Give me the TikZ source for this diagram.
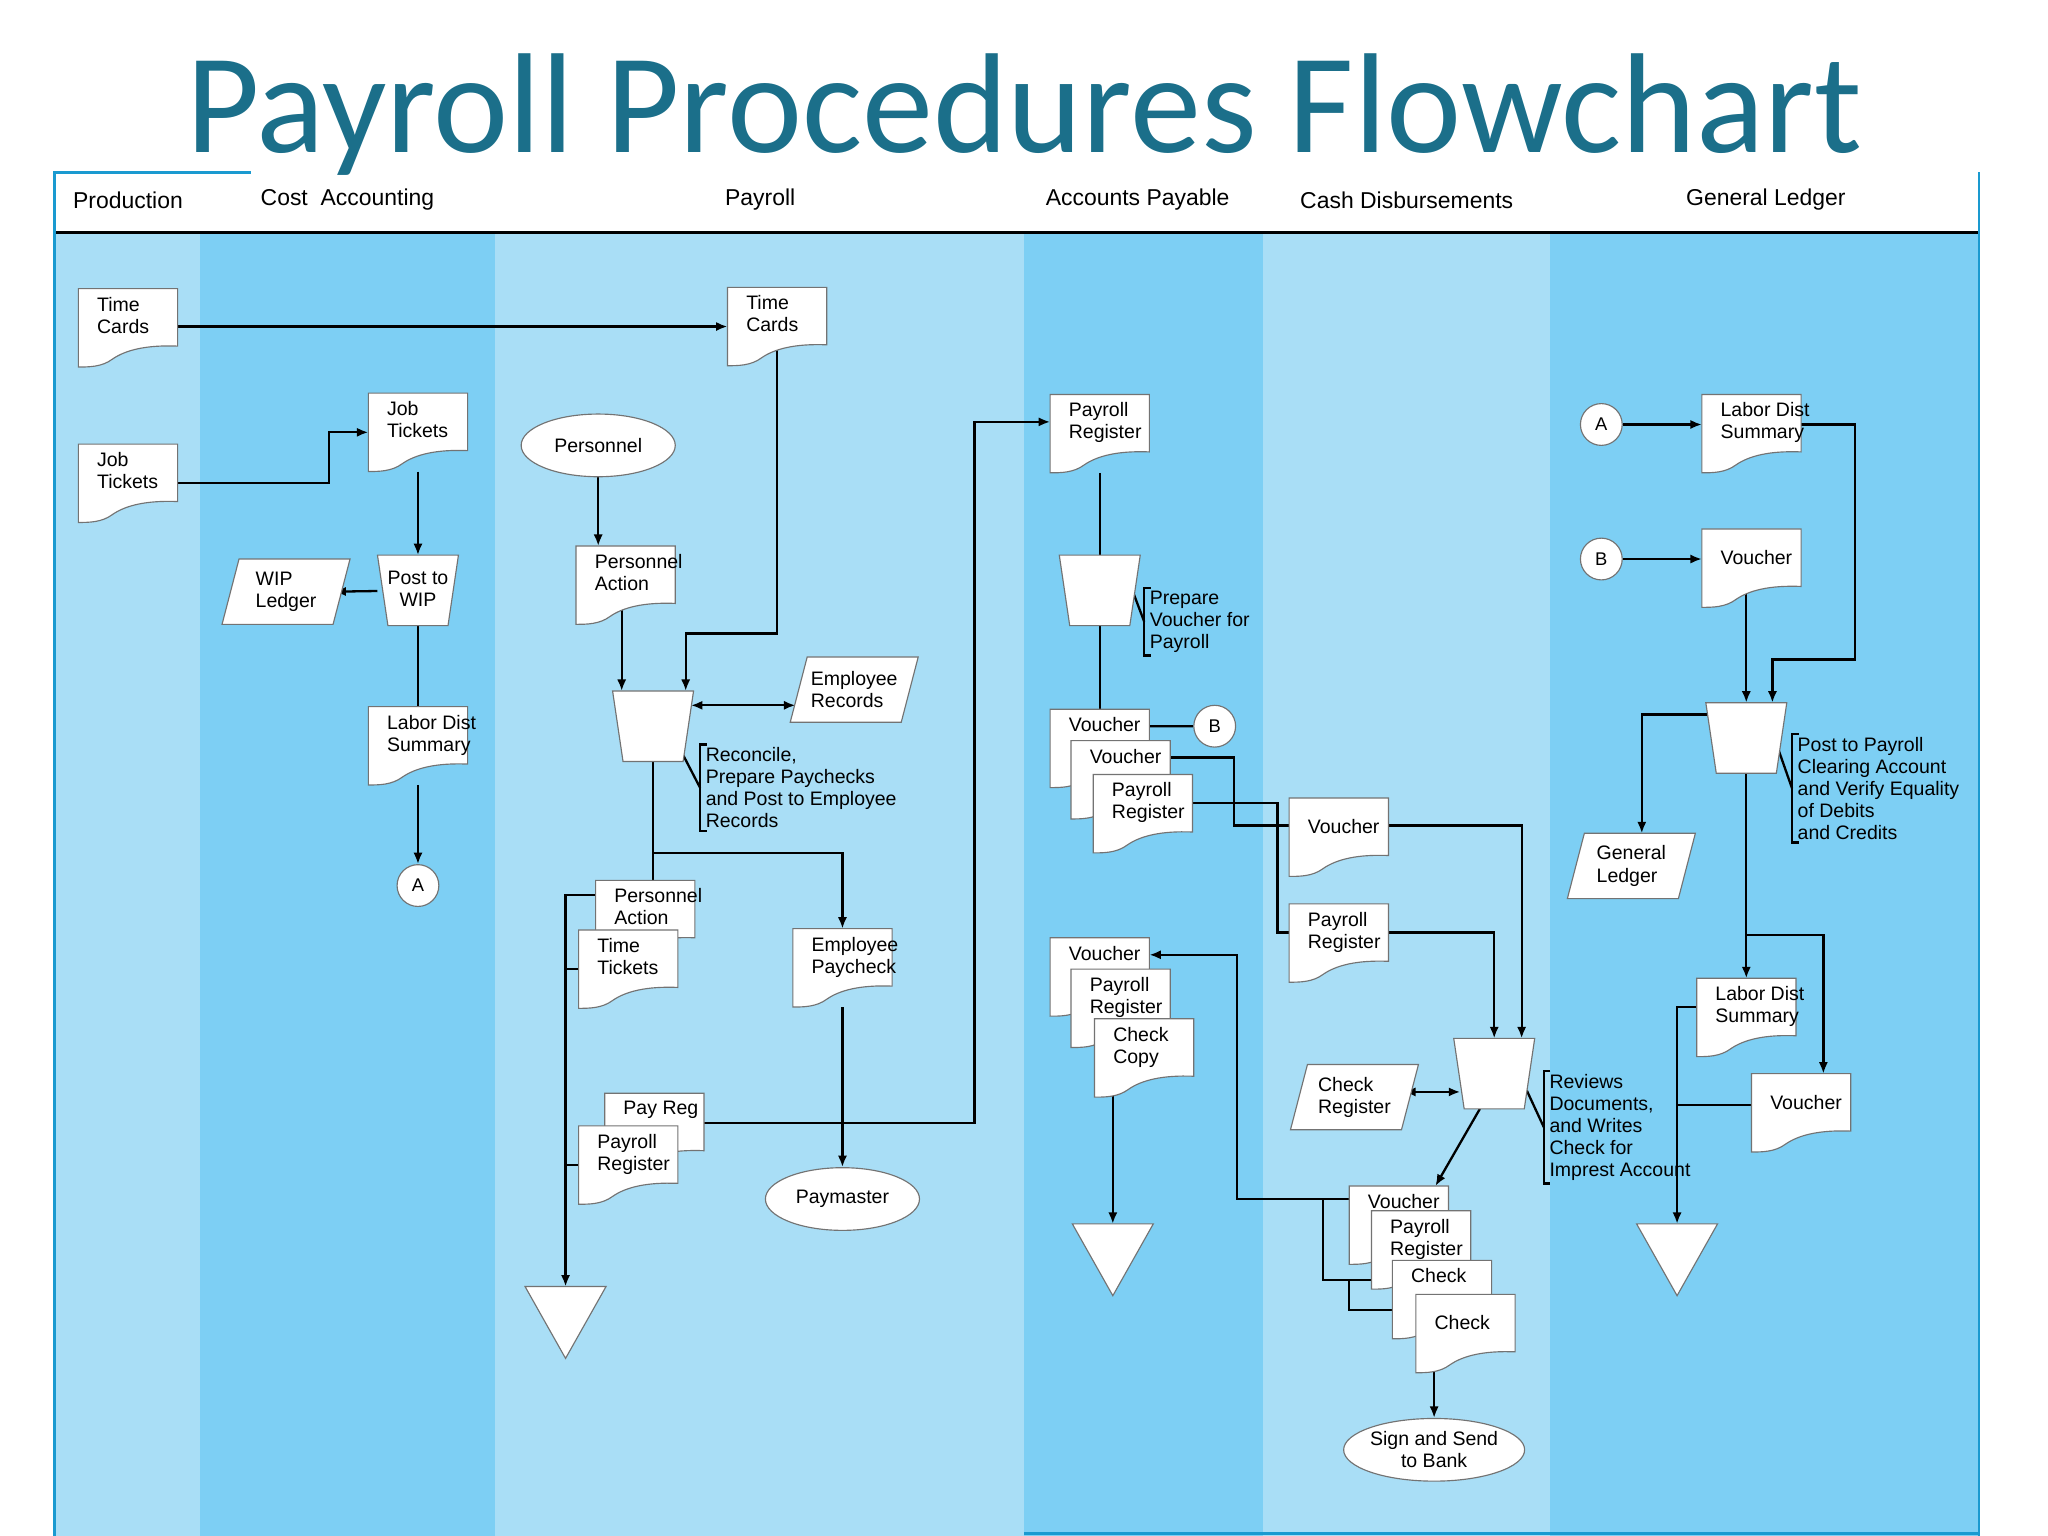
\documentclass[tikz,border=0pt]{standalone}
\usepackage{fontspec}
\setmainfont{Liberation Sans}
\newfontfamily\titlefont{Carlito}
\usetikzlibrary{calc,arrows.meta,shapes.geometric}
\pgfdeclarelayer{lanes}\pgfdeclarelayer{edges}
\pgfsetlayers{lanes,edges,main}
\definecolor{laneL}{HTML}{A9DEF6}
\definecolor{laneM}{HTML}{7DCFF4}
\definecolor{titleC}{HTML}{1B6F8A}
\definecolor{edgeC}{HTML}{1A9AD0}
\tikzset{
 shp/.style={fill=white,draw=black!55,line width=0.5pt},
 box/.style={rectangle,inner sep=0,outer sep=0,draw=none},
 txt/.style={inner sep=0,align=left,font=\fontsize{8.5}{9.6}\selectfont},
 ar/.style={line width=1pt,-{Latex[length=5pt,width=4pt]}},
 ln/.style={line width=1pt},
 dar/.style={line width=1pt,{Latex[length=5pt,width=4pt]}-{Latex[length=5pt,width=4pt]}},
 term/.style={ellipse,shp,minimum width=2.36cm,minimum height=0.96cm,inner sep=0,font=\fontsize{8.5}{9.6}\selectfont,align=center},
 conn/.style={circle,shp,minimum size=0.64cm,inner sep=0,font=\fontsize{8}{9}\selectfont},
 hdr/.style={font=\fontsize{10}{11}\selectfont}
}
% document: name,x,y,text ; optional top inset
\newcommand\Doc[5][6]{%
 \filldraw[shp] ({#3-38},{#4-30}) -- ({#3+38},{#4-30}) -- ({#3+38},{#4+14})
  .. controls ({#3+14},{#4+13}) and ({#3-2},{#4+17}) .. ({#3-12},{#4+24})
  .. controls ({#3-20},{#4+30}) and ({#3-30},{#4+30}) .. ({#3-38},{#4+30}) -- cycle;
 \node[box,minimum width=1.52cm,minimum height=1.2cm] (#2) at (#3,#4) {};
 \node[txt,anchor=north west] at ({#3-24},{#4-30+#1}) {#5};}
% trapezoid: name,x,y
\newcommand\Trap[3]{%
 \filldraw[shp] ({#2-31},{#3-27}) -- ({#2+31},{#3-27}) -- ({#2+23},{#3+27}) -- ({#2-23},{#3+27}) -- cycle;
 \node[box,minimum width=1.24cm,minimum height=1.08cm] (#1) at (#2,#3) {};}
% parallelogram: name,x,y,text
\newcommand\Para[4]{%
 \filldraw[shp] ({#2-49},{#3+25}) -- ({#2-36},{#3-25}) -- ({#2+49},{#3-25}) -- ({#2+36},{#3+25}) -- cycle;
 \node[box,minimum width=1.72cm,minimum height=1cm] (#1) at (#2,#3) {};
 \node[txt] at (#2,#3) {#4};}
% offline file triangle: name,x(top centre),y(top)
\newcommand\Tri[3]{%
 \filldraw[shp] ({#2-31},#3) -- ({#2+31},#3) -- (#2,{#3+55}) -- cycle;
 \coordinate (#1) at (#2,#3);}
\newcommand\Brk[1]{\draw[ln] ($(#1.north west)+(1,-2)$) -| ($(#1.south west)+(-4,2)$) -- ++(5,0);}
\begin{document}
\begin{tikzpicture}[x=0.02cm,y=-0.02cm]
\useasboundingbox (0,0) rectangle (1568,1176);
\begin{pgfonlayer}{lanes}
 \fill[white] (0,0) rectangle (1568,1176);
 \fill[laneL] (42,178) rectangle (153,1176);
 \fill[laneM] (153,178) rectangle (379,1176);
 \fill[laneL] (379,178) rectangle (784,1176);
 \fill[laneM] (784,178) rectangle (967,1176);
 \fill[laneL] (967,178) rectangle (1187,1176);
 \fill[laneM] (1187,178) rectangle (1515,1176);
 \draw[line width=1.3pt] (42,178) -- (1515,178);
 \draw[edgeC,line width=1.2pt] (42,1176) -- (42,132) -- (192,132);
 \draw[edgeC,line width=0.8pt] (1515,132) -- (1515,1176);
 \draw[edgeC,line width=1.5pt] (784,1174) -- (1515,1174);
\end{pgfonlayer}
\node[font=\titlefont\fontsize{62}{64}\selectfont,text=titleC] (title) at (784,88) {Payroll Procedures Flowchart};
\node[hdr] (h1) at (98,153) {Production};
\node[hdr] (h2) at (266,153) {Cost\ \ Accounting};
\node[hdr] (h3) at (582,153) {Payroll};
\node[hdr] (h4) at (871,153) {Accounts Payable};
\node[hdr] (h5) at (1077,153) {Cash Disbursements};
\node[hdr] (h6) at (1352,153) {General Ledger};
% Production / Cost accounting
\Doc{tc1}{98}{251}{Time\\Cards}
\Doc{jt1}{98}{370}{Job\\Tickets}
\Doc{jt2}{320}{331}{Job\\Tickets}
\Trap{wip}{320}{452}
\node[txt,align=center] at (320,451) {Post to\\WIP};
\Para{wipl}{219}{453}{WIP\\Ledger}
\Doc{lds1}{320}{571}{Labor Dist\\Summary}
\node[conn] (A1) at (320,678) {A};
% Payroll
\Doc{tc2}{595}{250}{Time\\Cards}
\node[term] (pers) at (458,341) {Personnel};
\Doc{pa1}{479}{448}{Personnel\\Action}
\Trap{rec}{500}{556}
\Para{emp}{654}{528}{Employee\\Records}
\node[txt,anchor=north west] (rectxt) at (540,572) {Reconcile,\\Prepare Paychecks\\and Post to Employee\\Records};
\Doc{pa2}{494}{704}{Personnel\\Action}
\Doc{tt}{481}{742}{Time\\Tickets}
\Doc{ep}{645}{741}{Employee\\Paycheck}
\node[term] (paym) at (645,918) {Paymaster};
\Doc{payreg}{501}{867}{Pay Reg}
\Doc{pr1}{481}{892}{Payroll\\Register}
\Tri{tri1}{433}{985}
% Accounts payable
\Doc{pr2}{842}{332}{Payroll\\Register}
\Trap{pv}{842}{452}
\node[txt,anchor=north west] (pvtxt) at (880,452) {Prepare\\Voucher for\\Payroll};
\Doc{v1}{842}{573}{Voucher}
\Doc{v2}{858}{597}{Voucher}
\Doc{pr3}{875}{623}{Payroll\\Register}
\node[conn] (B1) at (930,556) {B};
\Doc{v4}{842}{748}{Voucher}
\Doc{pr5}{858}{772}{Payroll\\Register}
\Doc{cc}{876}{810}{Check\\Copy}
\Tri{tri2}{852}{937}
% Cash disbursements
\Doc[16]{cdv}{1025}{641}{Voucher}
\Doc{cdpr}{1025}{722}{Payroll\\Register}
\Trap{rev}{1144}{822}
\node[txt,anchor=north west] (revtxt) at (1186,822) {Reviews\\Documents,\\and Writes\\Check for\\Imprest Account};
\Para{chkreg}{1037}{840}{Check\\Register}
\Doc{v3}{1071}{938}{Voucher}
\Doc{pr4}{1088}{957}{Payroll\\Register}
\Doc{ck1}{1104}{995}{Check}
\Doc[16]{ck2}{1122}{1021}{Check}
\node[term] (sign) at (1098,1110) {Sign and Send\\to Bank};
% General ledger
\node[conn] (A2) at (1226,325) {A};
\node[conn] (B2) at (1226,428) {B};
\Doc{lds2}{1341}{332}{Labor Dist\\Summary}
\Doc[16]{v5}{1341}{435}{Voucher}
\Trap{post}{1337}{565}
\node[txt,anchor=north west] (posttxt) at (1376,564) {Post to Payroll\\Clearing Account\\and Verify Equality\\of Debits\\and Credits};
\Para{gl}{1249}{663}{General\\Ledger}
\Doc{lds3}{1337}{779}{Labor Dist\\Summary}
\Doc[16]{v6}{1379}{852}{Voucher}
\Tri{tri3}{1284}{937}
% brackets
\Brk{rectxt}\Brk{pvtxt}\Brk{revtxt}\Brk{posttxt}
\begin{pgfonlayer}{edges}
 \draw[ar] (tc1.center |- tc2.west) -- (tc2.west);
 \draw[ar] (jt1.center) -- ++(154,0) |- (jt2.west);
 \draw[ar] (jt2) -- (wip.north);
 \draw[ar] (wip) -- ($(wipl.east)+(-6,0)$);
 \draw[ln] (wip) -- (lds1);
 \draw[ar] (lds1) -- (A1.north);
 \draw[ar] (pers) -- (pa1.north -| pers);
 \draw[ar] (tc2.center) -- ++(0,235) -| ($(rec.north)+(25,0)$);
 \draw[ar] (pa1.center -| rec.north) ++(-24,0) -- ($(rec.north)+(-24,0)$);
 \draw[dar] ($(rec.east)+(-2,-16)$) -- ($(emp.west)+(-2,12)$);
 \draw[ln] ($(rec.east)+(-8,22)$) -- ($(rectxt.west)+(-4,0)$);
 \draw[ln] (rec.center) -- (rec.center |- pa2.north);
 \draw[ar] (rec.center) -- ++(0,97) -| (ep.north);
 \draw[ar] (ep) -- (paym.north);
 \draw[ar] ($(pa2.north west)+(0,11)$) -| (tri1);
 \draw[ln] (tt.center) -- (tt.center -| tri1);
 \draw[ln] (pr1.center) -- (pr1.center -| tri1);
 \draw[ar] ($(payreg.east)+(0,-7)$) -- ++(207,0) |- ($(pr2.west)+(0,-9)$);
 \draw[ln] (pr2) -- (pv.north);
 \draw[ln] ($(pv.east)+(-6,0)$) -- ($(pvtxt.west)+(-4,0)$);
 \draw[ln] (pv) -- (v1.north);
 \draw[ln] ($(v1.north east)+(0,13)$) -- (B1.west);
 \draw[ln] ($(v2.north east)+(0,13)$) -- ++(49,0) |- ($(cdv.west)+(0,-9)$);
 \draw[ln] ($(pr3.east)+(0,-8)$) -- ++(65,0) |- ($(cdpr.west)+(0,-8)$);
 \draw[ar] ($(cdv.east)+(0,-9)$) -| ($(rev.north)+(21,0)$);
 \draw[ar] ($(cdpr.east)+(0,-8)$) -| (rev.north);
 \draw[dar] ($(chkreg.east)+(-5,-4)$) -- ($(rev.west)+(5,14)$);
 \draw[ln] ($(rev.east)+(-6,13)$) -- ($(revtxt.west)+(-4,0)$);
 \draw[ar] ($(rev.south)+(-11,0)$) -- ($(v3.north)+(28,0)$);
 \draw[ar] ($(v3.north west)+(0,10)$) -- ++(-86,0) |- ($(v4.north east)+(0,13)$);
 \draw[ln] ($(v3.north west)+(0,10)$) -- ++(-20,0) |- ($(pr4.north west)+(0,53)$);
 \draw[ln] ($(pr4.north west)+(-17,53)$) |- ($(ck1.north west)+(0,38)$);
 \draw[ar] (sign.north |- ck2.center) -- (sign.north);
 \draw[ar] (tri2 |- cc.center) -- (tri2);
 \draw[ar] (A2.east) -- (A2.east -| lds2.west);
 \draw[ar] (B2.east) -- (B2.east -| v5.west);
 \draw[ar] ($(lds2.east)+(0,-7)$) -- ++(41,0) -- ++(0,180) -| ($(post.north)+(20,0)$);
 \draw[ar] (post.north |- v5.center) -- (post.north);
 \draw[ar] ($(post.north west)+(4,9)$) -| ($(gl.north)+(8,0)$);
 \draw[ln] ($(post.east)+(-6,10)$) -- ($(posttxt.west)+(-4,0)$);
 \draw[ar] (post) -- (lds3.north);
 \draw[ar] (post.center) -- ++(0,151) -| ($(v6.north)+(17,0)$);
 \draw[ar] ($(lds3.north west)+(0,22)$) -| (tri3);
 \draw[ln] ($(v6.west)+(0,-6)$) -- ($(v6.west -| tri3)+(0,-6)$);
\end{pgfonlayer}
\end{tikzpicture}
\end{document}
